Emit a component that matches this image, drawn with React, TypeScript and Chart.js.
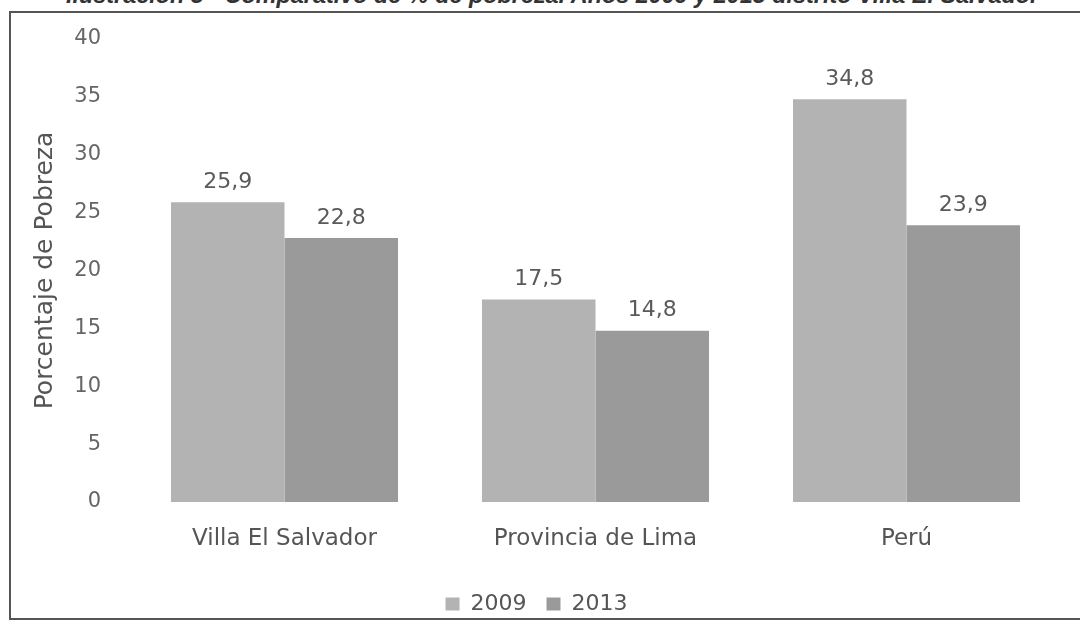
import React, { useEffect, useRef } from "react";
import { Chart, registerables } from "chart.js";

Chart.register(...registerables);

const categories = ["Villa El Salvador", "Provincia de Lima", "Perú"];
const series2009 = [25.9, 17.5, 34.8];
const series2013 = [22.8, 14.8, 23.9];
const seriesLabels = ["2009", "2013"];
const titleText =
  "Ilustración 3 - Comparativo de % de pobreza. Años 2009 y 2013 distrito Villa El Salvador";

const FONT = "'DejaVu Sans', sans-serif";

const valueLabels = {
  id: "valueLabels",
  afterDatasetsDraw(chart: any) {
    const ctx = chart.ctx;
    ctx.save();
    ctx.font = `22px ${FONT}`;
    ctx.fillStyle = "#5a5a5a";
    ctx.textAlign = "center";
    ctx.textBaseline = "bottom";
    chart.data.datasets.forEach((ds: any, i: number) => {
      const meta = chart.getDatasetMeta(i);
      meta.data.forEach((bar: any, j: number) => {
        const v = ds.data[j];
        ctx.fillText(String(v).replace(".", ","), bar.x, bar.y - 9);
      });
    });
    ctx.restore();
  },
};

export default function App() {
  const ref = useRef<HTMLCanvasElement | null>(null);
  useEffect(() => {
    if (!ref.current) return;
    const chart = new Chart(ref.current, {
      type: "bar",
      data: {
        labels: categories,
        datasets: [
          {
            label: seriesLabels[0],
            data: series2009,
            backgroundColor: "#b3b3b3",
            categoryPercentage: 0.73,
            barPercentage: 1.0,
          },
          {
            label: seriesLabels[1],
            data: series2013,
            backgroundColor: "#9a9a9a",
            categoryPercentage: 0.73,
            barPercentage: 1.0,
          },
        ],
      },
      options: {
        animation: false,
        responsive: false,
        maintainAspectRatio: false,
        layout: { padding: { left: 0, right: 20, top: 26, bottom: -7 } },
        plugins: {
          legend: {
            position: "bottom",
            labels: {
              boxWidth: 14,
              boxHeight: 13,
              padding: 20,
              color: "#555",
              font: { family: FONT, size: 22 },
            },
          },
          tooltip: { enabled: false },
        },
        scales: {
          x: {
            grid: { display: false, drawTicks: false },
            border: { display: false },
            ticks: { color: "#555", font: { family: FONT, size: 23 }, padding: 23 },
            afterFit: (scale: any) => {
              scale.height = 71;
            },
          },
          y: {
            min: 0,
            max: 40,
            grid: { display: false, drawTicks: false },
            border: { display: false },
            ticks: {
              stepSize: 5,
              color: "#666",
              font: { family: FONT, size: 21 },
              padding: 28,
            },
            title: {
              display: true,
              text: "Porcentaje de Pobreza",
              color: "#555",
              font: { family: FONT, size: 25 },
              padding: { top: 19, bottom: 0 },
            },
            afterFit: (scale: any) => {
              scale.width = 118;
              scale.paddingTop = 0;
              scale.paddingBottom = 0;
            },
          },
        },
      },
      plugins: [valueLabels],
    });
    return () => chart.destroy();
  }, []);

  return (
    <div
      style={{
        position: "fixed",
        left: 0,
        top: 0,
        width: 1080,
        height: 624,
        background: "#fff",
        overflow: "hidden",
      }}
    >
      <div
        style={{
          position: "absolute",
          left: 66,
          top: -18,
          whiteSpace: "nowrap",
          fontFamily: "'Liberation Sans', Arial, sans-serif",
          fontWeight: "bold",
          fontStyle: "italic",
          fontSize: 23.4,
          color: "#333",
        }}
      >
        {titleText}
      </div>
      <div
        style={{
          position: "absolute",
          left: 9,
          top: 11,
          width: 1075,
          height: 609,
          border: "2px solid #555",
          boxSizing: "border-box",
        }}
      >
        <canvas ref={ref} width={1071} height={605} style={{ display: "block" }} />
      </div>
    </div>
  );
}
